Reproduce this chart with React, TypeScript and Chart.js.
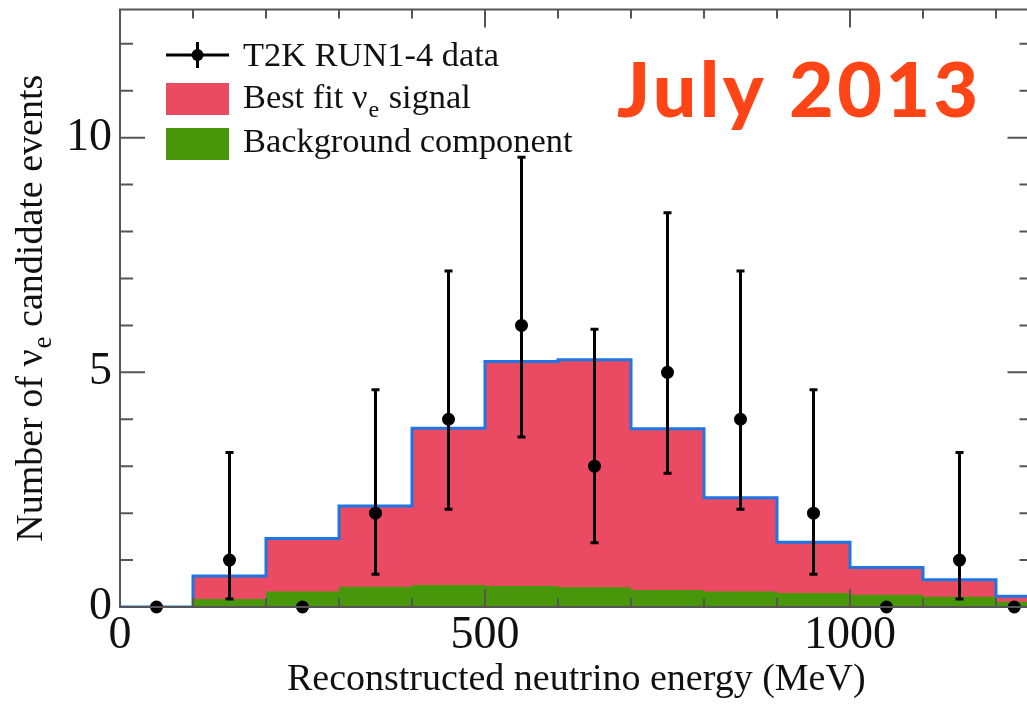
import React, { useEffect, useRef } from "react";
import { Chart, registerables } from "chart.js";

Chart.register(...registerables);

// ---- data ----
const binEdges = [0, 100, 200, 300, 400, 500, 600, 700, 800, 900, 1000, 1100, 1200, 1250];
const totalExpected = [0, 0.66, 1.46, 2.15, 3.81, 5.23, 5.27, 3.8, 2.33, 1.38, 0.84, 0.58, 0.23];
const backgroundExpected = [0, 0.17, 0.33, 0.43, 0.47, 0.45, 0.42, 0.36, 0.33, 0.3, 0.26, 0.22, 0.11];
const binCenters = [50, 150, 250, 350, 450, 550, 650, 750, 850, 950, 1050, 1150, 1225];
const observed = [0, 1, 0, 2, 4, 6, 3, 5, 4, 2, 0, 1, 0];
const errLow: (number | null)[] = [null, 0.17, null, 0.7, 2.08, 3.62, 1.37, 2.85, 2.08, 0.7, null, 0.17, null];
const errHigh: (number | null)[] = [null, 3.29, null, 4.63, 7.16, 9.58, 5.92, 8.4, 7.16, 4.63, null, 3.29, null];
const xTickLabels = [0, 500, 1000];
const yTickLabels = [0, 5, 10];
const xMinorStep = 100;
const xMajorStep = 500;
const yMinorStep = 1;
const yMajorStep = 5;
const xMin = 0;
const xMax = 1250;
const yMin = 0;
const yMax = 12.73;

const legendLabels = ["T2K RUN1-4 data", "Best fit ν", "Background component"];
const xTitle = "Reconstructed neutrino energy (MeV)";
const stampText = "July 2013";

const PINK = "#EA4A62";
const GREEN = "#48960A";
const BLUE = "#1C76E4";
const FRAME = "#555555";
const SERIF = "'Liberation Serif', 'Times New Roman', serif";

function stepPoints(values: number[]) {
  const pts = values.map((v, i) => ({ x: binEdges[i], y: v }));
  pts.push({ x: binEdges[binEdges.length - 1], y: values[values.length - 1] });
  return pts;
}

const overlayPlugin = {
  id: "overlay",
  afterDatasetsDraw(chart: any) {
    const { ctx, chartArea, scales } = chart;
    const xs = scales.x;
    const ys = scales.y;
    const { left, right, top, bottom } = chartArea;
    ctx.save();

    // frame
    ctx.strokeStyle = FRAME;
    ctx.lineWidth = 2;
    ctx.strokeRect(left, top, right - left, bottom - top);

    // x ticks (bottom + top, pointing inward)
    for (let v = xMin; v <= xMax + 1e-6; v += xMinorStep) {
      const px = xs.getPixelForValue(v);
      const len = Math.abs(v % xMajorStep) < 1e-6 ? 18 : 9;
      ctx.beginPath();
      ctx.moveTo(px, bottom);
      ctx.lineTo(px, bottom - len);
      ctx.moveTo(px, top);
      ctx.lineTo(px, top + len);
      ctx.stroke();
    }
    // y ticks (left + right)
    for (let v = yMin; v <= yMax + 1e-6; v += yMinorStep) {
      const py = ys.getPixelForValue(v);
      const len = Math.abs(v % yMajorStep) < 1e-6 ? 25 : 13;
      ctx.beginPath();
      ctx.moveTo(left, py);
      ctx.lineTo(left + len, py);
      ctx.moveTo(right, py);
      ctx.lineTo(right - len, py);
      ctx.stroke();
    }

    // error bars
    ctx.strokeStyle = "#000";
    ctx.lineWidth = 3;
    binCenters.forEach((c, i) => {
      const lo = errLow[i];
      const hi = errHigh[i];
      if (lo == null || hi == null) return;
      const px = xs.getPixelForValue(c);
      const pt = ys.getPixelForValue(hi);
      const pb = ys.getPixelForValue(lo);
      ctx.beginPath();
      ctx.moveTo(px, pt);
      ctx.lineTo(px, pb);
      ctx.moveTo(px - 4, pt);
      ctx.lineTo(px + 4, pt);
      ctx.moveTo(px - 4, pb);
      ctx.lineTo(px + 4, pb);
      ctx.stroke();
    });

    // legend
    ctx.strokeStyle = "#000";
    ctx.lineWidth = 3;
    ctx.beginPath();
    ctx.moveTo(166, 55);
    ctx.lineTo(229, 55);
    ctx.moveTo(197.5, 42);
    ctx.lineTo(197.5, 68);
    ctx.stroke();
    ctx.beginPath();
    ctx.arc(197.5, 55, 6, 0, Math.PI * 2);
    ctx.fillStyle = "#000";
    ctx.fill();
    ctx.fillStyle = PINK;
    ctx.fillRect(166, 83, 63, 32);
    ctx.fillStyle = GREEN;
    ctx.fillRect(166, 128, 63, 32);

    ctx.fillStyle = "#111";
    ctx.textAlign = "left";
    ctx.textBaseline = "alphabetic";
    ctx.font = `34.4px ${SERIF}`;
    ctx.fillText(legendLabels[0], 243, 66);
    ctx.fillText(legendLabels[1], 243, 108);
    const w = ctx.measureText(legendLabels[1]).width;
    ctx.font = `24px ${SERIF}`;
    ctx.fillText("e", 243 + w + 1, 117);
    const we = ctx.measureText("e").width;
    ctx.font = `34.4px ${SERIF}`;
    ctx.fillText(" signal", 243 + w + we + 2, 108);
    ctx.fillText(legendLabels[2], 243, 152);

    // y-axis title with subscript
    ctx.save();
    ctx.translate(42, (top + bottom) / 2);
    ctx.rotate(-Math.PI / 2);
    ctx.font = `38px ${SERIF}`;
    const p1 = "Number of ν";
    const p3 = " candidate events";
    const w1 = ctx.measureText(p1).width;
    const w3 = ctx.measureText(p3).width;
    ctx.font = `27px ${SERIF}`;
    const w2 = ctx.measureText("e").width + 1;
    const total = w1 + w2 + w3;
    const x0 = -total / 2;
    ctx.font = `38px ${SERIF}`;
    ctx.fillText(p1, x0, 0);
    ctx.font = `27px ${SERIF}`;
    ctx.fillText("e", x0 + w1 + 1, 9);
    ctx.font = `38px ${SERIF}`;
    ctx.fillText(p3, x0 + w1 + w2, 0);
    ctx.restore();

    // stamp
    ctx.fillStyle = "#FF4515";
    ctx.font = `900 77px Lato, 'Open Sans', sans-serif`;
    try {
      (ctx as any).letterSpacing = "3.5px";
    } catch (e) {}
    ctx.fillText(stampText, 617, 117);

    ctx.restore();
  },
};

export default function App() {
  const ref = useRef<HTMLCanvasElement | null>(null);
  useEffect(() => {
    if (!ref.current) return;
    const chart = new Chart(ref.current, {
      type: "line",
      data: {
        datasets: [
          {
            type: "scatter",
            label: "data",
            data: binCenters.map((c, i) => ({ x: c, y: observed[i] })),
            pointRadius: 6.5,
            pointHoverRadius: 6.5,
            pointBackgroundColor: "#000",
            pointBorderWidth: 0,
            showLine: false,
            clip: false,
          } as any,
          {
            label: "background",
            data: stepPoints(backgroundExpected),
            stepped: "before",
            fill: "origin",
            backgroundColor: GREEN,
            borderColor: GREEN,
            borderWidth: 0,
            pointRadius: 0,
          } as any,
          {
            label: "total",
            data: stepPoints(totalExpected),
            stepped: "before",
            fill: "origin",
            backgroundColor: PINK,
            borderColor: BLUE,
            borderWidth: 3,
            borderJoinStyle: "miter",
            pointRadius: 0,
          } as any,
        ],
      },
      options: {
        responsive: false,
        animation: false,
        events: [],
        layout: { padding: { left: 0, top: 9.5, right: 12.5, bottom: 0 } },
        plugins: { legend: { display: false }, tooltip: { enabled: false } },
        scales: {
          x: {
            type: "linear",
            min: xMin,
            max: xMax,
            grid: { display: false, drawTicks: false },
            border: { display: false },
            afterBuildTicks: (s: any) => {
              s.ticks = xTickLabels.map((v) => ({ value: v }));
            },
            afterFit: (s: any) => {
              s.height = 99;
              s.paddingLeft = 0;
              s.paddingRight = 0;
            },
            ticks: {
              color: "#111",
              font: { family: SERIF, size: 46, lineHeight: 1 },
              padding: 6,
              maxRotation: 0,
              autoSkip: false,
              callback: (v: any) => String(v),
            },
            title: {
              display: true,
              text: xTitle,
              color: "#111",
              font: { family: SERIF, size: 38, lineHeight: 1 },
              padding: { top: 0, bottom: 7 },
            },
          },
          y: {
            type: "linear",
            min: yMin,
            max: yMax,
            grid: { display: false, drawTicks: false },
            border: { display: false },
            afterBuildTicks: (s: any) => {
              s.ticks = yTickLabels.map((v) => ({ value: v }));
            },
            afterFit: (s: any) => {
              s.width = 120;
              s.paddingTop = 0;
              s.paddingBottom = 0;
            },
            ticks: {
              color: "#111",
              font: { family: SERIF, size: 46, lineHeight: 1 },
              padding: 8,
              autoSkip: false,
              callback: (v: any) => String(v),
            },
          },
        },
      },
      plugins: [overlayPlugin],
    });
    return () => chart.destroy();
  }, []);

  return (
    <div
      style={{
        position: "fixed",
        left: 0,
        top: 0,
        width: 1027,
        height: 706,
        overflow: "hidden",
        background: "#fff",
      }}
    >
      <canvas ref={ref} width={1045} height={706} style={{ display: "block" }} />
    </div>
  );
}
